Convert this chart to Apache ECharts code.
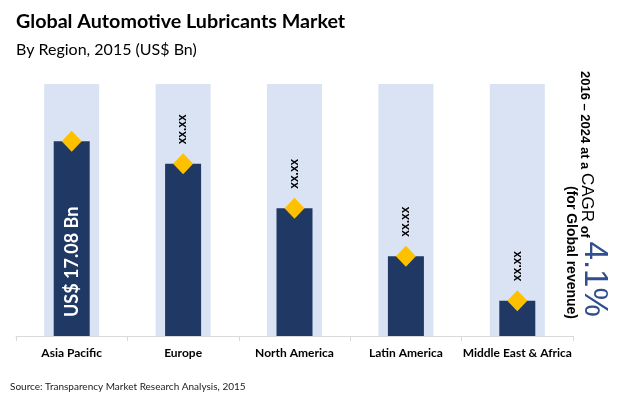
<!DOCTYPE html>
<html>
<head>
<meta charset="utf-8">
<script src="https://cdn.jsdelivr.net/npm/echarts@6/dist/echarts.min.js"></script>
<style>
  html, body { margin: 0; padding: 0; background: #fff; }
  #chart { width: 620px; height: 398px; }
</style>
</head>
<body>
<div id="chart"></div>
<script>
// regions and 2015 market size (US$ Bn)
const categories = ["Asia Pacific", "Europe", "North America", "Latin America", "Middle East & Africa"];
const values = [17.08, 15.1, 11.2, 7.0, 3.1];
const backdrop = [22.1, 22.1, 22.1, 22.1, 22.1];
const valueLabels = ["US$ 17.08 Bn", "xx.xx", "xx.xx", "xx.xx", "xx.xx"];
const axisMax = 22.1;

const FONT = "Lato";
const chart = echarts.init(document.getElementById("chart"));

const catAxis = (show) => ({
  type: "category",
  data: categories,
  show: show,
  axisLine: { show: true, lineStyle: { color: "#d9d9d9", width: 1 } },
  axisTick: { show: true, length: 5, lineStyle: { color: "#d9d9d9" } },
  axisLabel: {
    margin: 11,
    color: "#000",
    fontFamily: FONT,
    fontWeight: "bold",
    fontSize: 12,
    interval: 0,
  },
});

const option = {
  animation: false,
  grid: { left: 16, right: 47, top: 84, bottom: 62 },
  title: [
    {
      text: "Global Automotive Lubricants Market",
      left: 11,
      top: 7,
      textStyle: { fontFamily: FONT, fontWeight: "bold", fontSize: 19.7, color: "#000" },
    },
    {
      text: "By Region, 2015 (US$ Bn)",
      left: 11,
      top: 37,
      textStyle: { fontFamily: FONT, fontWeight: "normal", fontSize: 16, color: "#000" },
    },
    {
      text: "Source: Transparency Market Research Analysis, 2015",
      left: 5,
      top: 377,
      textStyle: { fontFamily: FONT, fontWeight: "normal", fontSize: 10, color: "#222" },
    },
  ],
  xAxis: [catAxis(true), catAxis(false)],
  yAxis: { type: "value", min: 0, max: axisMax, show: false },
  series: [
    {
      type: "bar",
      xAxisIndex: 0,
      data: backdrop,
      barWidth: 55,
      itemStyle: { color: "#dae3f3" },
      silent: true,
    },
    {
      type: "bar",
      xAxisIndex: 1,
      data: values.map((v, i) => ({
        value: v,
        label: i === 0
          ? {
              show: true,
              position: "insideBottom",
              distance: 19,
              rotate: 90,
              align: "left",
              verticalAlign: "middle",
              formatter: valueLabels[i],
              color: "#fff",
              fontFamily: FONT,
              fontWeight: "bold",
              fontSize: 18,
            }
          : { show: false },
      })),
      barWidth: 36,
      itemStyle: { color: "#1f3864" },
      z: 3,
    },
    {
      type: "scatter",
      xAxisIndex: 1,
      data: values.map((v, i) => ({
        value: v,
        label: i === 0
          ? { show: false }
          : {
              show: true,
              position: "top",
              distance: 9,
              rotate: 90,
              align: "left",
              verticalAlign: "middle",
              formatter: valueLabels[i],
              color: "#000",
              fontFamily: "Liberation Sans",
              fontWeight: "bold",
              fontSize: 12,
            },
      })),
      symbol: "diamond",
      symbolSize: [20, 21],
      itemStyle: { color: "#ffc000", opacity: 1 },
      z: 4,
    },
  ],
  graphic: [
    {
      type: "text",
      x: 578,
      y: 71,
      rotation: -Math.PI / 2,
      style: {
        text: "{a|2016 – 2024 at a }{b|CAGR}{a| of }{c|4.1%}",
        align: "left",
        verticalAlign: "bottom",
        rich: {
          a: { fontFamily: "Liberation Sans", fontWeight: "bold", fontSize: 13, fill: "#000", verticalAlign: "bottom", lineHeight: 15 },
          b: { fontFamily: "Liberation Sans", fontWeight: "normal", fontSize: 17, fill: "#000", verticalAlign: "bottom", lineHeight: 19 },
          c: { fontFamily: "Liberation Sans", fontWeight: "normal", fontSize: 33, fill: "#2f4f8f", verticalAlign: "bottom", lineHeight: 33 },
        },
      },
    },
    {
      type: "text",
      x: 571,
      y: 186,
      rotation: -Math.PI / 2,
      style: {
        text: "(for Global revenue)",
        align: "left",
        verticalAlign: "middle",
        fontFamily: "Liberation Sans",
        fontWeight: "bold",
        fontSize: 14,
        fill: "#000",
      },
    },
  ],
};

chart.setOption(option);
</script>
</body>
</html>
